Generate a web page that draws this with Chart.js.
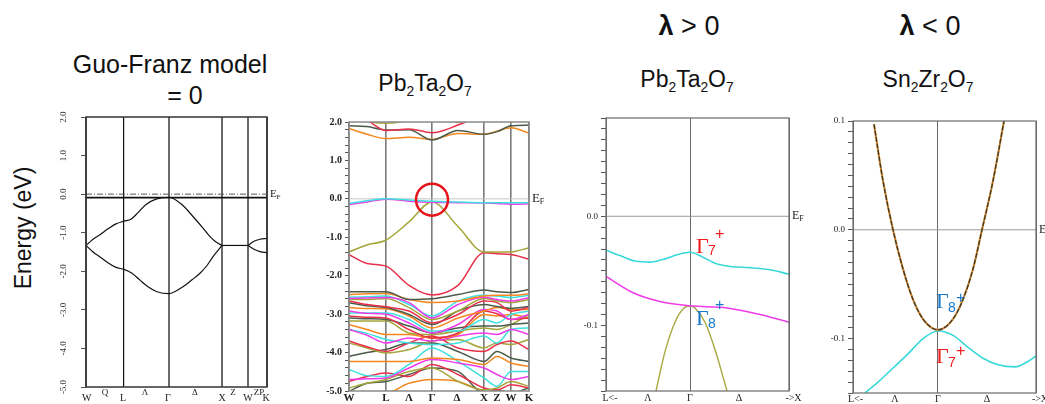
<!DOCTYPE html>
<html>
<head>
<meta charset="utf-8">
<script src="https://cdn.jsdelivr.net/npm/chart.js@4"></script>
<style>
  body { margin: 0; width: 1045px; height: 404px; background: #fff; position: relative; overflow: hidden;
         font-family: "Liberation Sans", Arial, sans-serif; color: #111; }
  .t { position: absolute; white-space: nowrap; line-height: 1; transform: translateX(-50%); }
  .t sub { font-size: 0.6em; vertical-align: -0.35em; line-height: 1; }
  .g { position: absolute; line-height: 1; white-space: nowrap; }
  .gs { font-family: "Liberation Serif", "Times New Roman", serif; font-size: 22px; }
  .gd { font-size: 14px; }
  .gp { font-size: 16px; }
  canvas { position: absolute; }
</style>
</head>
<body>
<div class="t" style="left:23px;top:228px;font-size:23px;transform:translate(-50%,-50%) rotate(-90deg)">Energy (eV)</div>
<div class="t" style="left:170px;top:52px;font-size:25px">Guo-Franz model</div>
<div class="t" style="left:185px;top:83px;font-size:25px">= 0</div>
<div class="t" style="left:425px;top:72px;font-size:23px">Pb<sub>2</sub>Ta<sub>2</sub>O<sub>7</sub></div>
<div class="t" style="left:689px;top:13px;font-size:27px"><b>λ</b> &gt; 0</div>
<div class="t" style="left:687px;top:68px;font-size:23px">Pb<sub>2</sub>Ta<sub>2</sub>O<sub>7</sub></div>
<div class="t" style="left:930px;top:13px;font-size:27px"><b>λ</b> &lt; 0</div>
<div class="t" style="left:928px;top:68px;font-size:23px">Sn<sub>2</sub>Zr<sub>2</sub>O<sub>7</sub></div>

<canvas id="gf" width="260" height="294" style="left:40px;top:110px"></canvas>
<canvas id="pb" width="250" height="292" style="left:300px;top:112px"></canvas>
<canvas id="pbz" width="250" height="296" style="left:560px;top:108px"></canvas>
<canvas id="snz" width="230" height="293" style="left:815px;top:111px"></canvas>

<!-- irrep labels -->
<span class="g gs" style="left:696px;top:235px;color:#f01c1c">Γ</span>
<span class="g gd" style="left:708px;top:243px;color:#f01c1c">7</span>
<span class="g gp" style="left:715px;top:226px;color:#f01c1c">+</span>
<span class="g gs" style="left:696px;top:307px;color:#1a78c8">Γ</span>
<span class="g gd" style="left:708px;top:316px;color:#1a78c8">8</span>
<span class="g gp" style="left:715px;top:297px;color:#1a78c8">+</span>
<span class="g gs" style="left:936px;top:290px;color:#1a78c8">Γ</span>
<span class="g gd" style="left:948px;top:300px;color:#1a78c8">8</span>
<span class="g gp" style="left:956px;top:290px;color:#1a78c8">+</span>
<span class="g gs" style="left:936px;top:345px;color:#f01c1c">Γ</span>
<span class="g gd" style="left:948px;top:355px;color:#f01c1c">7</span>
<span class="g gp" style="left:956px;top:343px;color:#f01c1c">+</span>

<script>
// ---- Guo-Franz model (eV vs k along W-L-Γ-X-W-K)
const gfSym = [0, 38, 83, 136, 162, 181];
const gfUpperK = [0, 7, 14, 22, 30, 38, 45, 52, 60, 70, 83, 95, 107, 116, 124, 130, 136];
const gfUpperE = [-1.33, -1.17, -1.05, -0.9, -0.77, -0.7, -0.65, -0.48, -0.27, -0.13, -0.08, -0.25, -0.58, -0.85, -1.1, -1.24, -1.33];
const gfLowerK = [0, 7, 14, 22, 30, 38, 46, 54, 62, 71, 83, 97, 106, 114, 121, 127, 136];
const gfLowerE = [-1.33, -1.5, -1.63, -1.78, -1.9, -1.95, -2.05, -2.23, -2.4, -2.53, -2.58, -2.4, -2.22, -2.05, -1.85, -1.62, -1.33];
const gfXWK = [136, 162];
const gfXWE = [-1.33, -1.33];
const gfWKK = [162, 168, 174, 181];
const gfWKUp = [-1.33, -1.22, -1.17, -1.15];
const gfWKLo = [-1.33, -1.43, -1.49, -1.52];
const gfFlatE = [-0.09, -0.09];
const gfYTicks = [2, 1, 0, -1, -2, -3, -4, -5];
const gfLabels = [['W', 0.7, 0], ['Q', 19, 1], ['L', 37, 0], ['Λ', 59, 1], ['Γ', 82, 0], ['Δ', 109, 1],
                  ['X', 136, 0], ['Z', 147, 1], ['W', 162, 0], ['ZP', 173, 1], ['K', 180, 0]];

// ---- Pb2Ta2O7 full band structure
const pbK = [0, 18, 37, 60, 83, 109, 135, 148, 162, 180];
const pbSym = [0, 37, 83, 135, 162, 180];
const pbLabels = [['W', 0], ['L', 37], ['Λ', 60], ['Γ', 83], ['Δ', 108], ['X', 135], ['Z', 148], ['W', 162], ['K', 180]];
const pbBands = [
  [2.3, 2.03, 1.97, 2.05, 2.3, 1.99, 2.3, 2.35, 2.4, 2.4],
  [2.3, 2.05, 1.78, 1.82, 1.72, 1.92, 2.2, 2.3, 2.3, 2.3],
  [1.9, 1.88, 1.79, 1.8, 1.53, 1.78, 1.68, 1.75, 1.9, 1.92],
  [1.83, 1.68, 1.57, 1.6, 1.55, 1.7, 1.68, 1.76, 1.85, 1.71],
  [-0.12, -0.05, 0.0, -0.03, -0.06, -0.08, -0.1, -0.1, -0.1, -0.1],
  [-0.15, -0.08, -0.01, -0.06, -0.09, -0.1, -0.11, -0.12, -0.14, -0.13],
  [-1.38, -1.2, -1.07, -0.6, -0.08, -0.72, -1.38, -1.38, -1.38, -1.27],
  [-1.45, -1.68, -1.75, -2.25, -2.5, -2.25, -1.4, -1.43, -1.45, -1.57],
  [-2.42, -2.42, -2.42, -2.62, -2.6, -2.49, -2.37, -2.42, -2.44, -2.36],
  [-2.49, -2.47, -2.46, -2.62, -2.7, -2.66, -2.53, -2.51, -2.51, -2.47],
  [-2.59, -2.58, -2.57, -2.7, -3.1, -2.75, -2.56, -2.62, -2.66, -2.57],
  [-2.56, -2.55, -2.53, -2.75, -3.05, -2.66, -2.51, -2.53, -2.57, -2.51],
  [-2.62, -2.62, -2.59, -2.83, -3.14, -2.92, -2.59, -2.66, -2.7, -2.62],
  [-2.66, -2.75, -2.81, -2.92, -3.23, -3.01, -2.66, -2.7, -2.92, -2.83],
  [-2.7, -2.78, -2.83, -3.01, -3.27, -2.92, -2.75, -2.8, -2.85, -2.8],
  [-2.83, -2.85, -2.86, -3.05, -3.36, -3.1, -2.92, -2.83, -2.88, -2.88],
  [-2.92, -2.98, -3.0, -3.23, -3.49, -3.27, -2.88, -2.92, -3.14, -3.01],
  [-2.97, -2.97, -2.97, -3.14, -3.44, -3.44, -3.14, -3.23, -3.01, -2.92],
  [-3.05, -3.08, -3.1, -3.4, -3.62, -3.49, -2.92, -2.99, -3.14, -3.1],
  [-3.1, -3.12, -3.14, -3.31, -3.49, -3.36, -3.31, -3.31, -3.27, -3.23],
  [-3.18, -3.18, -3.18, -3.49, -3.53, -3.44, -3.36, -3.4, -3.27, -3.01],
  [-3.27, -3.4, -3.53, -3.53, -3.62, -3.53, -3.01, -3.05, -3.01, -3.1],
  [-3.4, -3.55, -3.75, -3.62, -3.7, -3.57, -3.49, -3.53, -3.4, -3.53],
  [-3.4, -3.5, -3.66, -3.75, -3.79, -3.75, -3.57, -3.75, -3.4, -3.36],
  [-3.7, -3.85, -3.97, -3.75, -3.57, -3.88, -3.97, -3.79, -3.7, -3.92],
  [-3.75, -3.88, -4.01, -3.92, -3.7, -3.66, -3.88, -3.75, -3.79, -3.66],
  [-4.1, -4.0, -3.92, -3.75, -3.75, -3.97, -4.23, -3.97, -4.14, -4.23],
  [-4.23, -4.23, -4.23, -4.23, -4.14, -4.18, -4.31, -4.1, -4.27, -4.36],
  [-4.7, -4.68, -4.66, -4.4, -4.18, -4.27, -4.4, -4.57, -4.7, -4.62],
  [-4.44, -4.6, -4.62, -4.31, -3.88, -4.23, -4.66, -4.88, -4.49, -4.49],
  [-4.92, -4.8, -4.7, -4.49, -4.4, -4.75, -4.97, -4.92, -4.75, -4.88],
  [-4.75, -4.62, -4.53, -4.62, -4.31, -4.57, -4.92, -4.97, -4.84, -4.92],
  [-5.01, -4.8, -4.75, -4.57, -4.4, -4.49, -5.05, -4.97, -5.05, -4.92],
  [-5.05, -5.05, -5.05, -4.8, -4.7, -4.75, -5.01, -5.05, -5.01, -5.05]
];
const pbBandColors = ['#a5a53a', '#e8304a', '#4b5b4b', '#f5871f', '#3ee0e0', '#f03ce8', '#a5a53a', '#e8304a',
  '#4b5b4b', '#f5871f', '#f03ce8', '#3ee0e0', '#a5a53a', '#e8304a', '#4b5b4b', '#f5871f', '#f03ce8', '#3ee0e0',
  '#e8304a', '#4b5b4b', '#a5a53a', '#f5871f', '#f03ce8', '#3ee0e0', '#e8304a', '#a5a53a', '#4b5b4b', '#f5871f',
  '#f03ce8', '#3ee0e0', '#a5a53a', '#e8304a', '#4b5b4b', '#f5871f'];

// ---- Pb2Ta2O7 zoom near Γ (λ > 0)
const pzCyanK = [-0.84, -0.7, -0.55, -0.4, -0.25, -0.12, 0, 0.12, 0.25, 0.4, 0.6, 0.8, 0.99];
const pzCyanE = [-0.031, -0.036, -0.041, -0.042, -0.039, -0.035, -0.033, -0.037, -0.043, -0.046, -0.047, -0.049, -0.053];
const pzMagK = [-0.84, -0.57, -0.3, 0, 0.37, 0.7, 0.99];
const pzMagE = [-0.055, -0.07, -0.078, -0.082, -0.084, -0.09, -0.097];
const pzOlvK = [-0.34, -0.25, -0.15, -0.07, 0, 0.07, 0.15, 0.25, 0.37];
const pzOlvE = [-0.16, -0.124, -0.097, -0.085, -0.082, -0.086, -0.097, -0.122, -0.16];
const pzLabels = [['L<-', -0.8], ['Λ', -0.42], ['Γ', 0], ['Δ', 0.49], ['->X', 1.035]];

// ---- Sn2Zr2O7 zoom near Γ (λ < 0)
const szParK = [-0.64, -0.55, -0.45, -0.35, -0.25, -0.15, 0, 0.15, 0.25, 0.35, 0.44, 0.55, 0.66];
const szParE = [0.097, 0.045, 0.0, -0.036, -0.064, -0.082, -0.092, -0.082, -0.064, -0.036, 0.0, 0.045, 0.1];
const szCyanK = [-0.73, -0.6, -0.45, -0.3, -0.15, 0, 0.15, 0.3, 0.45, 0.6, 0.77, 0.9, 0.98];
const szCyanE = [-0.15, -0.14, -0.127, -0.114, -0.1, -0.093, -0.097, -0.108, -0.118, -0.124, -0.126, -0.121, -0.116];
const szLabels = [['L<-', -0.825], ['Λ', -0.43], ['Γ', 0], ['Δ', 0.49], ['->X', 1.02]];

const SERIF = '"Liberation Serif", "Times New Roman", serif';

function band(xs, ys, color, width, extra) {
  return Object.assign({
    data: xs.map((x, i) => ({ x: x, y: ys[i] })),
    borderColor: color, borderWidth: width, pointRadius: 0, showLine: true,
    cubicInterpolationMode: 'monotone', fill: false
  }, extra || {});
}

// Chart.js paints dataset 0 last (on top), so lists below go top-most first
function deco(o) {
  return {
    id: 'deco',
    afterDatasetsDraw(chart) {
      const ctx = chart.ctx, a = chart.chartArea, x = chart.scales.x, y = chart.scales.y;
      ctx.save();
      if (o.circle) {
        ctx.strokeStyle = '#e8121a'; ctx.lineWidth = 2.5;
        ctx.beginPath();
        ctx.arc(x.getPixelForValue(o.circle[0]), y.getPixelForValue(o.circle[1]), 16, 0, Math.PI * 2);
        ctx.stroke();
      }
      ctx.strokeStyle = o.frame; ctx.lineWidth = o.frameWidth;
      ctx.strokeRect(a.left, a.top, a.right - a.left, a.bottom - a.top);
      ctx.fillStyle = '#222';
      ctx.textAlign = 'center'; ctx.textBaseline = 'middle';
      o.kLabels.forEach(l => {
        ctx.font = l[2] && o.kFontUp ? o.kFontUp : o.kFont;
        ctx.fillText(l[0], x.getPixelForValue(l[1]), a.bottom + (l[2] ? o.kUp : o.kDy));
      });
      if (o.rotTicks) {
        ctx.font = '9px ' + SERIF; ctx.fillStyle = '#333';
        o.rotTicks.forEach(v => {
          ctx.save();
          ctx.translate(a.left - 22, y.getPixelForValue(v));
          ctx.rotate(-Math.PI / 2);
          ctx.fillText(v.toFixed(1), 0, 0);
          ctx.restore();
        });
      }
      if (o.ef) {
        const ey = y.getPixelForValue(0);
        ctx.textAlign = 'left'; ctx.fillStyle = '#222';
        ctx.font = o.ef + 'px ' + SERIF;
        ctx.fillText('E', a.right + 3, ey);
        if (o.efSub) {
          ctx.font = Math.round(o.ef * 0.65) + 'px ' + SERIF;
          ctx.fillText('F', a.right + 3 + o.ef * 0.6, ey + 3);
        }
      }
      ctx.restore();
    }
  };
}

function makeChart(id, c) {
  return new Chart(document.getElementById(id), {
    type: 'scatter',
    data: { datasets: c.datasets },
    options: {
      animation: false, responsive: false, devicePixelRatio: 1, events: [],
      layout: { padding: { top: c.padTop, right: c.padRight, left: 0, bottom: 0 } },
      plugins: { legend: { display: false }, tooltip: { enabled: false } },
      scales: {
        x: {
          type: 'linear', min: c.xMin, max: c.xMax,
          afterBuildTicks: s => { s.ticks = c.sym.map(v => ({ value: v })); },
          afterFit: s => { s.height = c.xH; },
          ticks: { display: false },
          border: { display: false },
          grid: { drawTicks: false, color: c.gridColor, lineWidth: c.gridWidth }
        },
        y: {
          min: c.yMin, max: c.yMax,
          afterFit: s => { s.width = c.yW; },
          ticks: {
            display: c.yLabels !== false, stepSize: c.yStep, autoSkip: false, padding: 3,
            color: '#222', font: c.yFont,
            callback: v => {
              const m = v / c.yMajor;
              return Math.abs(m - Math.round(m)) < 1e-6 ? v.toFixed(1) : '';
            }
          },
          border: { display: false },
          grid: { drawOnChartArea: false, drawTicks: true, tickLength: c.tickLen, color: '#555', lineWidth: 1 }
        }
      }
    },
    plugins: [deco(c.deco)]
  });
}

// Panel 1: Guo-Franz model
makeChart('gf', {
  padTop: 7, padRight: 33, xH: 17, yW: 46,
  xMin: 0, xMax: 181, yMin: -5, yMax: 2, yStep: 1, yMajor: 1, yLabels: false, tickLen: 5,
  sym: gfSym,
  gridColor: ctx => ctx.tick.value === 38 ? '#111' : '#6a6a6a',
  gridWidth: ctx => ctx.tick.value === 38 ? 1.2 : 2,
  datasets: [
    band([0, 181], [0, 0], '#555', 1, { borderDash: [6, 2, 1, 2], cubicInterpolationMode: 'default' }),
    band([0, 181], gfFlatE, '#111', 1.6),
    band(gfUpperK, gfUpperE, '#111', 1.2),
    band(gfLowerK, gfLowerE, '#111', 1.2),
    band(gfXWK, gfXWE, '#111', 1.2),
    band(gfWKK, gfWKUp, '#111', 1.2),
    band(gfWKK, gfWKLo, '#111', 1.2)
  ],
  deco: { frame: '#333', frameWidth: 1.5, kLabels: gfLabels, kFont: '10px ' + SERIF, kFontUp: '9px ' + SERIF,
          kDy: 11, kUp: 6, rotTicks: gfYTicks, ef: 11, efSub: true }
});

// Panel 2: Pb2Ta2O7 bands (Fermi line underneath)
const pbSets = pbBands.map((e, i) => band(pbK, e, pbBandColors[i], 1.5));
pbSets.push(band([0, 180], [0, 0], '#c4c4c4', 1, { cubicInterpolationMode: 'default' }));
makeChart('pb', {
  padTop: 10, padRight: 21, xH: 13, yW: 49,
  xMin: 0, xMax: 180, yMin: -5, yMax: 2, yStep: 0.2, yMajor: 1, tickLen: 4,
  yFont: { family: SERIF, size: 10, weight: 'bold' },
  sym: pbSym, gridColor: '#7a7a7a', gridWidth: 1.6,
  datasets: pbSets,
  deco: { frame: '#8a8a8a', frameWidth: 1.5, kLabels: pbLabels.map(l => [l[0], l[1], 0]),
          kFont: 'bold 11px ' + SERIF, kDy: 7, kUp: 7, ef: 13, efSub: true, circle: [83, -0.02] }
});

// Panel 3: Pb2Ta2O7 near Γ
makeChart('pbz', {
  padTop: 10, padRight: 21, xH: 13, yW: 46,
  xMin: -0.84, xMax: 0.99, yMin: -0.16, yMax: 0.09, yStep: 0.01, yMajor: 0.1, tickLen: 5,
  yFont: { family: SERIF, size: 9 },
  sym: [-0.84, 0, 0.99], gridColor: '#6a6a6a', gridWidth: 1,
  datasets: [
    band(pzCyanK, pzCyanE, '#3ad8d8', 1.6),
    band(pzMagK, pzMagE, '#f03ce8', 1.6),
    band(pzOlvK, pzOlvE, '#a8a840', 1.4),
    band([-0.84, 0.99], [0, 0], '#999', 1, { cubicInterpolationMode: 'default' })
  ],
  deco: { frame: '#6a6a6a', frameWidth: 1.2, kLabels: pzLabels.map(l => [l[0], l[1], 0]),
          kFont: '10px ' + SERIF, kDy: 7, kUp: 7, ef: 12, efSub: true }
});

// Panel 4: Sn2Zr2O7 near Γ (two degenerate bands: dark over orange)
makeChart('snz', {
  padTop: 10, padRight: 9, xH: 11, yW: 38,
  xMin: -0.85, xMax: 0.98, yMin: -0.15, yMax: 0.1, yStep: 0.01, yMajor: 0.1, tickLen: 5,
  yFont: { family: SERIF, size: 9 },
  sym: [-0.85, 0, 0.98], gridColor: '#6a6a6a', gridWidth: 1,
  datasets: [
    band(szParK, szParE, '#3a3a26', 1.3, { borderDash: [5, 1.5] }),
    band(szParK, szParE, '#d98a30', 2.1),
    band(szCyanK, szCyanE, '#3ad8d8', 1.6),
    band([-0.85, 0.98], [0, 0], '#999', 1, { cubicInterpolationMode: 'default' })
  ],
  deco: { frame: '#6a6a6a', frameWidth: 1.2, kLabels: szLabels.map(l => [l[0], l[1], 0]),
          kFont: '10px ' + SERIF, kDy: 6, kUp: 6, ef: 12, efSub: false }
});
</script>
</body>
</html>
